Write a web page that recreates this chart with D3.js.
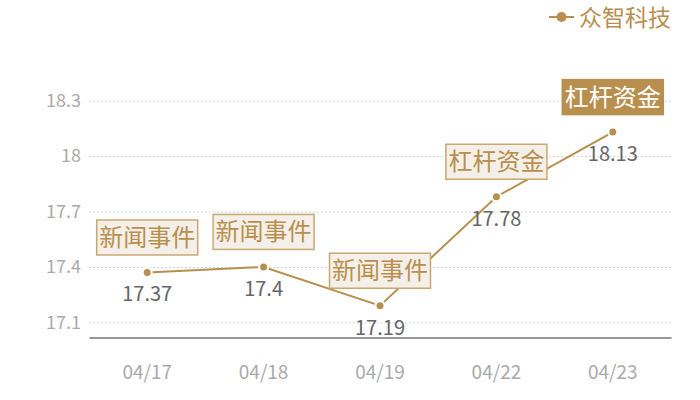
<!DOCTYPE html>
<html><head><meta charset="utf-8">
<script src="https://cdn.jsdelivr.net/npm/d3@7"></script>
<style>
html,body{margin:0;padding:0;background:#fff;}
svg text{font-family:"Noto Sans CJK SC","Noto Sans",sans-serif;}
</style></head>
<body><svg id="c" width="700" height="400"></svg>
<script>
const categories = ["04/17","04/18","04/19","04/22","04/23"];
const values = [17.37, 17.4, 17.19, 17.78, 18.13];
const events = ["新闻事件","新闻事件","新闻事件","杠杆资金","杠杆资金"];
const highlight = [false,false,false,false,true];
const yTicks = [17.1, 17.4, 17.7, 18.0, 18.3];
const seriesName = "众智科技";

const main = "#b88f4e";
const svg = d3.select("#c");
const x = d3.scaleBand().domain(categories).range([89, 671]);
const y = d3.scaleLinear().domain([17.018, 18.3]).range([337.5, 100.7]);
const cx = d => x(d) + x.bandwidth()/2;

// grid
const grid = svg.append("g").call(d3.axisLeft(y).tickValues(yTicks).tickSize(-(671-89)).tickFormat(d => d3.format("")(+d.toFixed(1))))
  .attr("transform","translate(89,0)");
grid.select(".domain").remove();
grid.selectAll(".tick line").attr("stroke","#d4d4d4").attr("stroke-dasharray","2,2");
grid.selectAll(".tick text").attr("x",-8).attr("fill","#aaaaaa").attr("font-size",18);

// x axis
const xa = svg.append("g").attr("transform","translate(0,337.5)").call(d3.axisBottom(x).tickSize(0));
xa.select(".domain").attr("stroke","#333").attr("stroke-width",1);
xa.selectAll(".tick text").attr("dy",0).attr("y",41).attr("fill","#aaaaaa").attr("font-size",19);

// line
const line = d3.line().x((d,i)=>cx(categories[i])).y(d=>y(d));
svg.append("path").datum(values).attr("d",line).attr("fill","none").attr("stroke",main).attr("stroke-width",2);

// markers
svg.selectAll(".pt").data(values).join("circle")
  .attr("cx",(d,i)=>cx(categories[i])).attr("cy",d=>y(d)).attr("r",4.5)
  .attr("fill",main).attr("stroke","#fff").attr("stroke-width",2);

// value labels
svg.selectAll(".vl").data(values).join("text")
  .attr("x",(d,i)=>cx(categories[i])).attr("y",d=>y(d)+29)
  .attr("text-anchor","middle").attr("fill","#666").attr("font-size",20)
  .text(d=>d);

// annotation boxes
const ann = svg.selectAll(".ann").data(values).join("g")
  .attr("transform",(d,i)=>`translate(${cx(categories[i])},${y(d)-35})`);
ann.append("rect").attr("x",-50.5).attr("y",-17.5).attr("width",101).attr("height",35)
  .attr("fill",(d,i)=>highlight[i]?main:"#f4efe8")
  .attr("stroke",(d,i)=>highlight[i]?main:"#c9a870").attr("stroke-width",1.5);
ann.append("text").attr("text-anchor","middle").attr("y",8.5).attr("font-size",24)
  .attr("fill",(d,i)=>highlight[i]?"#fff":main).text((d,i)=>events[i]);

// legend
const lg = svg.append("g").attr("transform","translate(0,17)");
lg.append("line").attr("x1",549).attr("x2",574).attr("stroke",main).attr("stroke-width",2);
lg.append("circle").attr("cx",561.5).attr("r",5).attr("fill",main);
lg.append("text").attr("x",579).attr("y",9).attr("font-size",23).attr("fill",main).text(seriesName);
</script></body></html>
